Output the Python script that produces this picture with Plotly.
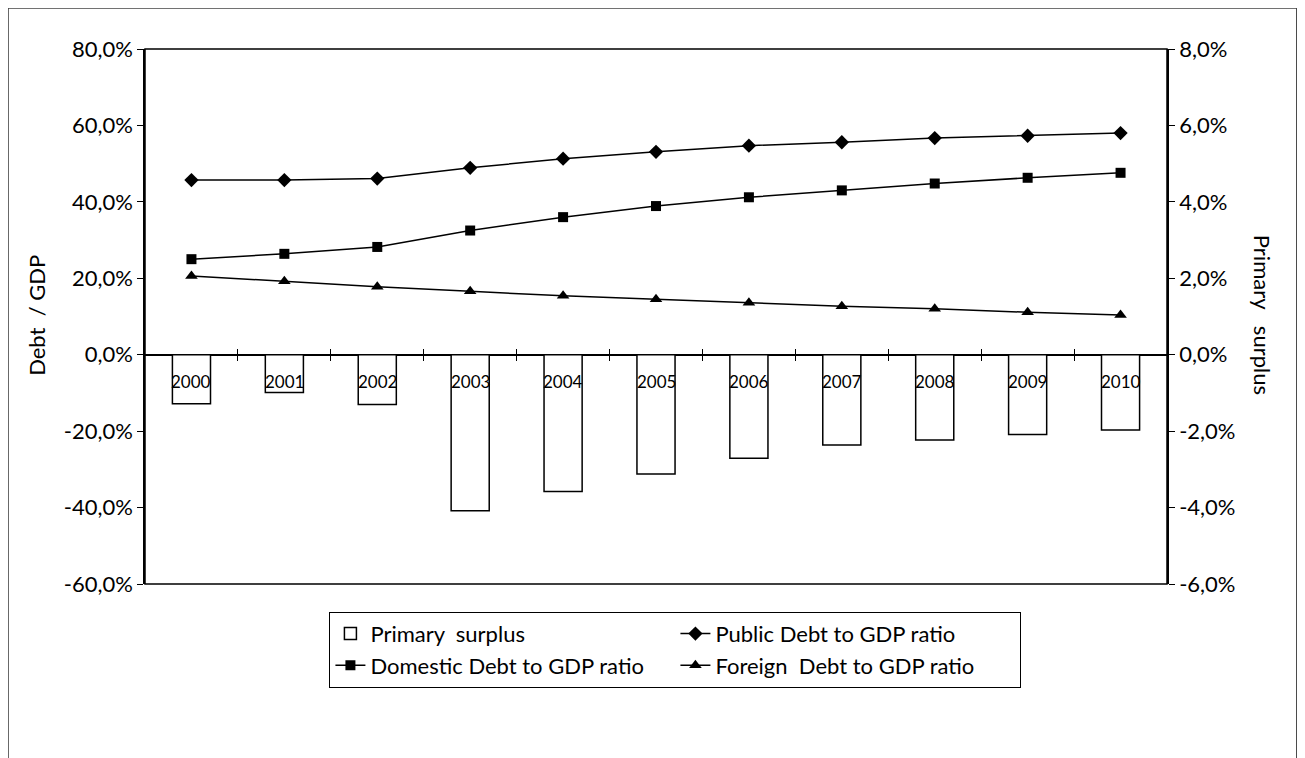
import plotly.graph_objects as go

years = ["2000", "2001", "2002", "2003", "2004", "2005", "2006", "2007", "2008", "2009", "2010"]
primary_surplus = [-1.28, -0.99, -1.30, -4.08, -3.58, -3.12, -2.71, -2.36, -2.23, -2.09, -1.97]
public_debt = [45.7, 45.7, 46.1, 48.9, 51.3, 53.1, 54.7, 55.6, 56.7, 57.3, 58.0]
domestic_debt = [25.0, 26.4, 28.2, 32.5, 36.0, 38.9, 41.2, 43.0, 44.8, 46.3, 47.6]
foreign_debt = [20.6, 19.2, 17.8, 16.6, 15.4, 14.5, 13.6, 12.7, 12.0, 11.1, 10.4]

left_ticks = [-60, -40, -20, 0, 20, 40, 60, 80]
left_ticktext = ["-60,0%", "-40,0%", "-20,0%", "0,0%", "20,0%", "40,0%", "60,0%", "80,0%"]
right_ticks = [-6, -4, -2, 0, 2, 4, 6, 8]
right_ticktext = ["-6,0%", "-4,0%", "-2,0%", "0,0%", "2,0%", "4,0%", "6,0%", "8,0%"]

FONT = "Lato"
fig = go.Figure()

fig.add_trace(go.Bar(
    x=years, y=primary_surplus, name="Primary\u00a0 surplus",
    xaxis="x", yaxis="y2", width=0.41,
    marker=dict(color="white", line=dict(color="black", width=1.5)),
))
fig.add_trace(go.Scatter(
    x=years, y=public_debt, name="Public Debt to GDP ratio", mode="lines+markers",
    xaxis="x", yaxis="y",
    line=dict(color="black", width=1.5),
    marker=dict(symbol="diamond", size=11, color="black"),
))
fig.add_trace(go.Scatter(
    x=years, y=domestic_debt, name="Domestic Debt to GDP ratio", mode="lines+markers",
    xaxis="x", yaxis="y",
    line=dict(color="black", width=1.5),
    marker=dict(symbol="square", size=10, color="black"),
))
fig.add_trace(go.Scatter(
    x=years, y=foreign_debt, name="Foreign\u00a0 Debt to GDP ratio", mode="lines+markers",
    xaxis="x", yaxis="y",
    line=dict(color="black", width=1.5),
    marker=dict(symbol="triangle-up", size=11, color="black"),
))
# empty helper traces so the category-boundary tick axes at the zero line exist
fig.add_trace(go.Scatter(x=[], y=[], xaxis="x3", yaxis="y3", showlegend=False, hoverinfo="skip"))
fig.add_trace(go.Scatter(x=[], y=[], xaxis="x4", yaxis="y4", showlegend=False, hoverinfo="skip"))

zero_pos = 60 / 140
n = len(years)
boundaries = [i + 0.5 for i in range(n - 1)]

tick_axis = dict(
    type="linear", range=[-0.5, n - 0.5], tickvals=boundaries,
    ticks="outside", ticklen=5, tickcolor="black", tickwidth=1,
    showticklabels=False, showgrid=False, zeroline=False, showline=False,
)

fig.update_layout(
    width=1297, height=750,
    margin=dict(l=137, r=138, t=41, b=174),
    paper_bgcolor="white", plot_bgcolor="rgba(0,0,0,0)",
    font=dict(family=FONT, size=22, color="black"),
    showlegend=True,
    xaxis=dict(
        type="category", categoryorder="array", categoryarray=years,
        range=[-0.5, n - 0.5], anchor="y",
        showline=False, ticks="", showticklabels=False,
        showgrid=False, zeroline=False,
    ),
    xaxis3=dict(anchor="y3", side="bottom", **tick_axis),
    xaxis4=dict(anchor="y4", side="top", **tick_axis),
    yaxis3=dict(domain=[zero_pos, 1], range=[0, 1], visible=False, anchor="x3"),
    yaxis4=dict(domain=[0, zero_pos], range=[0, 1], visible=False, anchor="x4"),
    yaxis=dict(
        range=[-60, 80], tickvals=left_ticks, ticktext=left_ticktext,
        showline=True, linecolor="black", linewidth=1.5,
        ticks="outside", ticklen=6, tickcolor="black",
        showgrid=False, zeroline=True, zerolinecolor="black", zerolinewidth=1.5,
        tickfont=dict(family=FONT, size=22),
    ),
    yaxis2=dict(
        range=[-6, 8], tickvals=right_ticks, ticktext=right_ticktext,
        overlaying="y", side="right", anchor="x",
        showline=True, linecolor="black", linewidth=1.5,
        ticks="outside", ticklen=6, tickcolor="black",
        showgrid=False, zeroline=False, tickfont=dict(family=FONT, size=22),
    ),
    legend=dict(
        orientation="h", x=0.519, xanchor="center", y=-0.052, yanchor="top",
        bordercolor="black", borderwidth=1, bgcolor="white",
        entrywidth=300, traceorder="normal",
        font=dict(family=FONT, size=22),
    ),
    shapes=[
        dict(type="rect", xref="paper", yref="paper", x0=0, x1=1, y0=0, y1=1,
             line=dict(color="black", width=1.5), fillcolor="rgba(0,0,0,0)", layer="above"),
        dict(type="rect", xref="paper", yref="paper", x0=-0.134, x1=1.127, y0=-0.35, y1=1.0766,
             line=dict(color="#444", width=1.5), fillcolor="rgba(0,0,0,0)", layer="below"),
    ],
)

annotations = [
    dict(text="Debt\u00a0 / GDP", xref="paper", yref="paper", x=-0.1057, y=0.503,
         xanchor="center", yanchor="middle",
         textangle=-90, showarrow=False, font=dict(family=FONT, size=22)),
    dict(text="Primary\u00a0\u00a0 surplus", xref="paper", yref="paper", x=1.093, y=0.503,
         xanchor="center", yanchor="middle",
         textangle=90, showarrow=False, font=dict(family=FONT, size=22)),
]
for i, yr in enumerate(years):
    annotations.append(dict(text=yr, x=i, xref="x", y=0, yref="y", yanchor="top",
                            xanchor="center", yshift=-14, showarrow=False,
                            font=dict(family=FONT, size=17)))
fig.update_layout(annotations=annotations)

fig.write_html("out.html")
